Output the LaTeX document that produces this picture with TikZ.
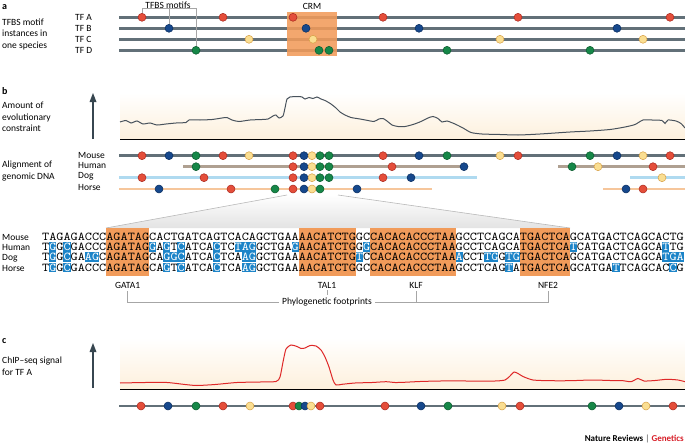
\documentclass[tikz,border=0pt]{standalone}
\usepackage{fontspec}
\setmainfont{Carlito}
\newfontfamily\seqfont{lmmono10-regular.otf}[FakeStretch=1.1317]
\usetikzlibrary{positioning}

\definecolor{trackgray}{RGB}{98,112,120}
\definecolor{tfR}{RGB}{228,78,58}
\definecolor{tfRdark}{RGB}{170,40,30}
\definecolor{tfB}{RGB}{22,72,140}
\definecolor{tfBdark}{RGB}{10,45,95}
\definecolor{tfG}{RGB}{22,135,72}
\definecolor{tfGdark}{RGB}{10,90,45}
\definecolor{tfY}{RGB}{250,222,145}
\definecolor{tfYdark}{RGB}{215,160,70}
\definecolor{crmorange}{RGB}{241,155,90}
\definecolor{hlblue}{RGB}{28,132,200}
\definecolor{humanline}{RGB}{175,160,145}
\definecolor{dogline}{RGB}{175,218,240}
\definecolor{horseline}{RGB}{246,198,155}
\definecolor{panelbg}{RGB}{253,240,220}
\definecolor{baseline}{RGB}{205,200,190}
\definecolor{curvegray}{RGB}{72,82,92}
\definecolor{chipred}{RGB}{222,40,40}
\definecolor{arrowgray}{RGB}{55,70,80}
\definecolor{natred}{RGB}{215,30,40}

\tikzset{
  lbl/.style={inner sep=0pt, font=\fontsize{9.5}{11.5}\selectfont},
  paneltag/.style={inner sep=0pt, font=\fontsize{10}{12}\selectfont\bfseries},
  track/.style={line width=2.6pt, color=#1},
  track/.default=trackgray,
  tfdot/.style={fill=tf#1, draw=tf#1dark, line width=0.5pt},
  bracket/.style={draw=gray!70, line width=0.5pt},
  plotbox/.style={top color=white, bottom color=panelbg},
  seqrow/.style={anchor=base west, inner sep=0pt, text height=7.3pt, text depth=0pt,
    font=\seqfont\fontsize{12}{12}\selectfont},
}
\newcommand{\seqhl}[1]{\textcolor{white}{#1}}
\newcommand{\seqw}{7.13}
\newcommand{\tfdots}[2]{\foreach \px/\pc in {#2} {\filldraw[tfdot=\pc] (\px,#1) circle (4pt);}}
\newcommand{\hlcols}[2]{\foreach \c in {#2} {\fill[hlblue] ({42+(\c-1)*\seqw},#1-8.6) rectangle +(\seqw,9.8);}}

\begin{document}
\begin{tikzpicture}[x=1pt,y=-1pt]
\useasboundingbox (0,0) rectangle (685,444);

\node[paneltag, anchor=west] (tagA) at (2,7) {a};
\node[lbl, anchor=west, align=left] (descA) at (2,34) {TFBS motif\\instances in\\one species};
\node[lbl, anchor=west] (tfA) at (75,17.3) {TF A};
\node[lbl, anchor=west] (tfB) at (75,28.3) {TF B};
\node[lbl, anchor=west] (tfC) at (75,39.3) {TF C};
\node[lbl, anchor=west] (tfD) at (75,50.3) {TF D};
\foreach \y in {17.3,28.3,39.3,50.3}
  \draw[track] (119,\y) -- (685,\y);
\fill[crmorange, fill opacity=0.88] (287,12) rectangle (337,56);
\node[lbl] (crm) at (312,6) {CRM};
\tfdots{17.3}{142/R,223/R,293/R,383/R,518/R,670/R}
\tfdots{28.3}{169/B,306/B,419/B,617/B}
\tfdots{39.3}{249/Y,313/Y,500/Y,643/Y}
\tfdots{50.3}{196/G,319/G,329/G,447/G,590/G}
\node[lbl] (motifs) at (168,5) {TFBS motifs};
\coordinate (mA) at (142,13.3);
\coordinate (mB) at (169,24.3);
\coordinate (mD) at (196,46.3);
\draw[bracket] (mA) -- (mA |- motifs.south) -- (mD |- motifs.south) -- (mD);
\draw[bracket] (mB) -- (mB |- motifs.south);

\node[paneltag, anchor=west] (tagB) at (2,91) {b};
\node[lbl, anchor=west, align=left] (descB) at (2,117) {Amount of\\evolutionary\\constraint};
\shade[plotbox] (120,93) rectangle (685,139.5);
\draw[baseline, line width=0.8pt] (120,139.5) -- (685,139.5);
\draw[arrowgray, line width=2pt] (93,139) -- (93,101);
\fill[arrowgray] (93,93) -- (89.5,102) -- (96.5,102) -- cycle;
\draw[curvegray, line width=1pt] plot[smooth, tension=0.4] coordinates {
  (120,122) (126,120.5) (131,123) (137,121) (143,124) (150,123) (157,125) (166,124)
  (176,123) (186,122.5) (189,120) (200,120) (212,119.5) (222,118) (227,117.5) (232,120)
  (239,121.5) (250,120) (262,119.5) (268,119) (273,116) (276,115) (279,118) (283,116)
  (285,108) (287,99) (290,97) (298,96.5) (302,97) (305,99) (309,97.5) (313,98.5)
  (317,97) (321,99) (325,100.5) (331,104) (336,108) (340,112) (345,115) (351,117.5)
  (360,119) (368,120.5) (374,121.5) (379,119) (383,118.5) (387,121) (392,125) (398,126.5)
  (405,126.5) (413,124.5) (421,121.5) (428,118) (433,116.5) (438,118.5) (442,122)
  (447,121) (455,124) (463,128) (471,132.5) (482,134) (500,134.5) (518,135) (540,134)
  (570,132) (590,131) (610,129.5) (625,127) (635,124.5) (643,120) (652,120) (662,120.5)
  (665,123.5) (668,120) (676,121) (681,123.5) (685,128)};

\node[lbl, anchor=west, align=left] (descAln) at (2,171) {Alignment of\\genomic DNA};
\node[lbl, anchor=west] (spM) at (78,155) {Mouse};
\node[lbl, anchor=west] (spH) at (78,165.5) {Human};
\node[lbl, anchor=west] (spD) at (78,176.5) {Dog};
\node[lbl, anchor=west] (spO) at (78,187.5) {Horse};
\draw[track] (119,155.7) -- (685,155.7);
\draw[track=humanline] (183,166.7) -- (464,166.7);
\draw[track=humanline] (558,166.7) -- (685,166.7);
\draw[track=dogline] (119,177.7) -- (477,177.7);
\draw[track=dogline] (630,177.7) -- (685,177.7);
\draw[track=horseline] (119,189) -- (432,189);
\draw[track=horseline] (603,189) -- (685,189);
\tfdots{155.7}{142/R,169/B,196/G,223/R,249/Y,293/R,304/B,312/Y,320/G,329/G,383/R,419/B,447/G,500/Y,518/R,590/G,617/B,643/Y,670/R}
\tfdots{166.7}{196/G,293/R,304/B,312/Y,320/G,329/G,392/R,464/B,572/G,598/Y,653/R}
\tfdots{177.7}{142/R,204/R,293/R,304/B,312/Y,320/G,329/G,383/R,411/B,662/Y}
\tfdots{189}{159/B,231/R,275/G,293/R,304/B,312/Y,320/G,357/B,626/B,643/R}

\shade[top color=white, bottom color=gray!22] (287,195) -- (338,195) -- (570,228) -- (106,228) -- cycle;
\draw[gray!55, line width=0.6pt] (287,195) -- (106,228);
\draw[gray!55, line width=0.6pt] (338,195) -- (570,228);

\fill[crmorange] ({42+9*\seqw},228) rectangle ({42+15*\seqw},276);
\fill[crmorange] ({42+36*\seqw},228) rectangle ({42+44*\seqw},276);
\fill[crmorange] ({42+46*\seqw},228) rectangle ({42+58*\seqw},276);
\fill[crmorange] ({42+67*\seqw},228) rectangle ({42+74*\seqw},276);
\hlcols{250.4}{2,4,16,18,20,25,28,29,30,36,46,75,88}
\hlcols{260.8}{2,4,7,8,18,19,20,25,29,30,45,59,63,64,66,67,88,89,90}
\hlcols{271.2}{2,4,18,20,25,29,30,66,81,89}
\node[lbl, anchor=base west] (rowM) at (2,240) {Mouse};
\node[lbl, anchor=base west] (rowH) at (2,250.4) {Human};
\node[lbl, anchor=base west] (rowD) at (2,260.8) {Dog};
\node[lbl, anchor=base west] (rowO) at (2,271.2) {Horse};
\node[seqrow] (seqM) at (42,240) {TAGAGACCCAGATAGCACTGATCAGTCACAGCTGAAAACATCTGGCCACACACCCTAAGCCTCAGCATGACTCAGCATGACTCAGCACTG};
\node[seqrow] (seqH) at (42,250.4) {T\seqhl{G}G\seqhl{C}GACCCAGATAG\seqhl{G}A\seqhl{G}T\seqhl{C}ATCA\seqhl{C}TC\seqhl{TAG}GCTGA\seqhl{G}AACATCTGG\seqhl{G}CACACACCCTAAGCCTCAGCATGACTCA\seqhl{T}CATGACTCAGCA\seqhl{T}TG};
\node[seqrow] (seqD) at (42,260.8) {T\seqhl{G}G\seqhl{C}GA\seqhl{AG}CAGATAGCA\seqhl{GGC}ATCA\seqhl{C}TCA\seqhl{AG}GCTGAAAACATCTG\seqhl{T}CCACACACCCTAA\seqhl{A}CCT\seqhl{TG}G\seqhl{TG}TGACTCAGCATGACTCAGCA\seqhl{TGA}};
\node[seqrow] (seqO) at (42,271.2) {T\seqhl{G}G\seqhl{C}GACCCAGATAGCA\seqhl{G}T\seqhl{C}ATCA\seqhl{C}TCA\seqhl{AG}GCTGAAAACATCTGGCCACACACCCTAAGCCTCAG\seqhl{T}ATGACTCAGCATGA\seqhl{T}TCAGCAC\seqhl{C}G};

\node[lbl] (gata) at (127.6,285) {GATA1};
\node[lbl] (tal) at (327,285) {TAL1};
\node[lbl] (klf) at (416,285) {KLF};
\node[lbl] (nfe) at (548,285) {NFE2};
\node[lbl, inner sep=3pt] (foot) at (327,302) {Phylogenetic footprints};
\draw[bracket] ([yshift=-3pt]gata.south) |- (foot.west);
\draw[bracket] ([yshift=-3pt]nfe.south) |- (foot.east);
\draw[bracket] ([yshift=-3pt]klf.south) -- (klf |- foot);
\draw[bracket] ([yshift=-2pt]tal.south) -- (tal |- foot.north);

\node[paneltag, anchor=west] (tagC) at (2,341) {c};
\node[lbl, anchor=west, align=left] (descC) at (2,366) {ChIP–seq signal\\for TF A};
\shade[plotbox] (120,338) rectangle (685,389);
\draw[baseline, line width=0.8pt] (120,389) -- (685,389);
\draw[arrowgray, line width=2pt] (93,388) -- (93,351);
\fill[arrowgray] (93,343) -- (89.5,352) -- (96.5,352) -- cycle;
\draw[chipred, line width=1pt] plot[smooth, tension=0.4] coordinates {
  (120,383) (145,382.5) (167,382.5) (185,384.5) (197,385.5) (215,384.5) (237,382.5)
  (260,382) (276,381.5) (280,377) (283,362) (286,349) (291,345) (297,346.5) (301,348.5)
  (305,348) (310,345.5) (316,346) (321,350) (325,357) (329,367) (333,380) (336,385)
  (342,384.3) (355,383) (372,382.5) (386,381.7) (395,382.5) (404,382.3) (420,381.5)
  (440,381) (470,381) (495,381) (505,380) (510,376) (514,372) (518,373.5) (523,376.5)
  (533,380) (550,380.7) (570,380.7) (592,380) (610,380.5) (623,380.7) (631,381.7)
  (638,378.5) (644,381) (655,380.5) (667,379.3) (678,380) (685,381.7)};
\draw[track] (119,406) -- (685,406);
\tfdots{406}{141/R,168/B,196/G,223/R,250/Y,293/R,299/G,305/B,311/Y,320/R,385/R,421/B,448/G,502/Y,520/R,592/G,619/B,646/Y,673/R}

\node[anchor=base east, inner sep=0pt, font=\fontsize{9}{11}\selectfont\bfseries] (credit) at (684,441) {Nature Reviews \textcolor{gray}{|} \textcolor{natred}{Genetics}};
\end{tikzpicture}
\end{document}
